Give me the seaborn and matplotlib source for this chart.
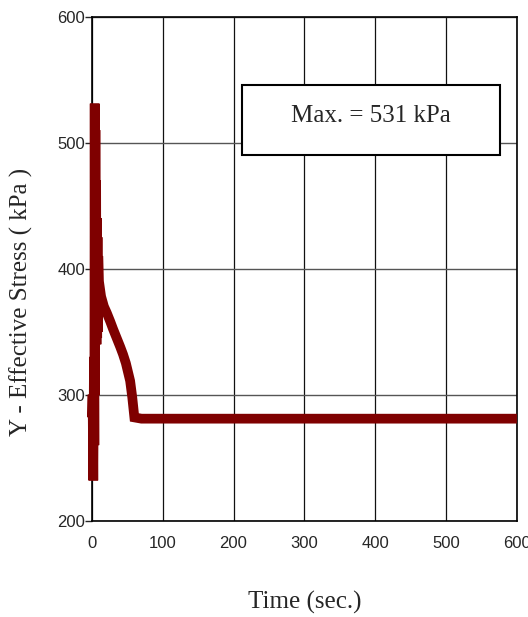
import numpy as np
import pandas as pd
import matplotlib
matplotlib.use("Agg")
import matplotlib.pyplot as plt
import seaborn as sns
from matplotlib.patches import Rectangle

# ---------------- DATA ---------------- #

# spike at the start (oscillations), then decay, then steady state
time_s = [0, 1, 2, 3, 3.5, 4, 4.5, 5, 5.5, 6, 6.5, 7, 7.5, 8, 8.5, 9, 10,
          13, 17, 21, 26, 30, 35, 40, 44, 48, 51, 54, 57, 60,
          70, 100, 200, 300, 400, 500, 600]
stress_kpa = [282, 300, 232, 330, 260, 531, 300, 510, 350, 470, 340, 440, 345, 425, 350, 410, 390,
              378, 370, 365, 358, 352, 345, 338, 332, 325, 318, 311, 298, 282,
              281, 281, 281, 281, 281, 281, 281]

max_label = "Max. = 531 kPa"

x_ticks = [0, 100, 200, 300, 400, 500, 600]
y_ticks = [200, 300, 400, 500, 600]

df = pd.DataFrame({"t": time_s, "s": stress_kpa})

# ---------------- PLOT ---------------- #

sns.set_style("white")
serif = ["Liberation Serif", "DejaVu Serif"]
sans = ["Liberation Sans", "DejaVu Sans"]

fig = plt.figure(figsize=(5.28, 6.17), dpi=100)
ax = fig.add_axes([0.174, 0.156, 0.805, 0.817])

sns.lineplot(data=df, x="t", y="s", ax=ax, color="#7f0000", lw=7,
             estimator=None, sort=False, solid_joinstyle="miter",
             solid_capstyle="butt", zorder=3, clip_on=False)

ax.set_xlim(0, 600)
ax.set_ylim(200, 600)
ax.set_xticks(x_ticks)
ax.set_yticks(y_ticks)
ax.xaxis.grid(True, color="#111111", lw=0.9)
ax.yaxis.grid(True, color="#555555", lw=1.0)
for sp in ax.spines.values():
    sp.set_color("black")
    sp.set_linewidth(1.2)

ax.tick_params(axis="x", length=0, pad=11)
ax.tick_params(axis="y", length=5, width=1, pad=0, direction="out", left=True)
for lab in ax.get_xticklabels() + ax.get_yticklabels():
    lab.set_family(sans)
    lab.set_fontsize(12)

ax.set_xlabel("Time (sec.)", family=serif, fontsize=18)
ax.set_ylabel("Y - Effective Stress ( kPa )", family=serif, fontsize=18)
ax.xaxis.set_label_coords(0.5, -(603 - 521) / 504)
ax.xaxis.label.set_va("center")
ax.yaxis.set_label_coords(-0.165, 0.435)
ax.yaxis.label.set_va("center")

ax.add_patch(Rectangle((0.353, 0.726), 0.607, 0.139, transform=ax.transAxes,
                       facecolor="white", edgecolor="black", lw=1.5, zorder=4))
ax.text(0.656, 0.803, max_label, transform=ax.transAxes, ha="center", va="center",
        family=serif, fontsize=18, zorder=5)

plt.savefig("out.png", dpi=100)
plt.close()
